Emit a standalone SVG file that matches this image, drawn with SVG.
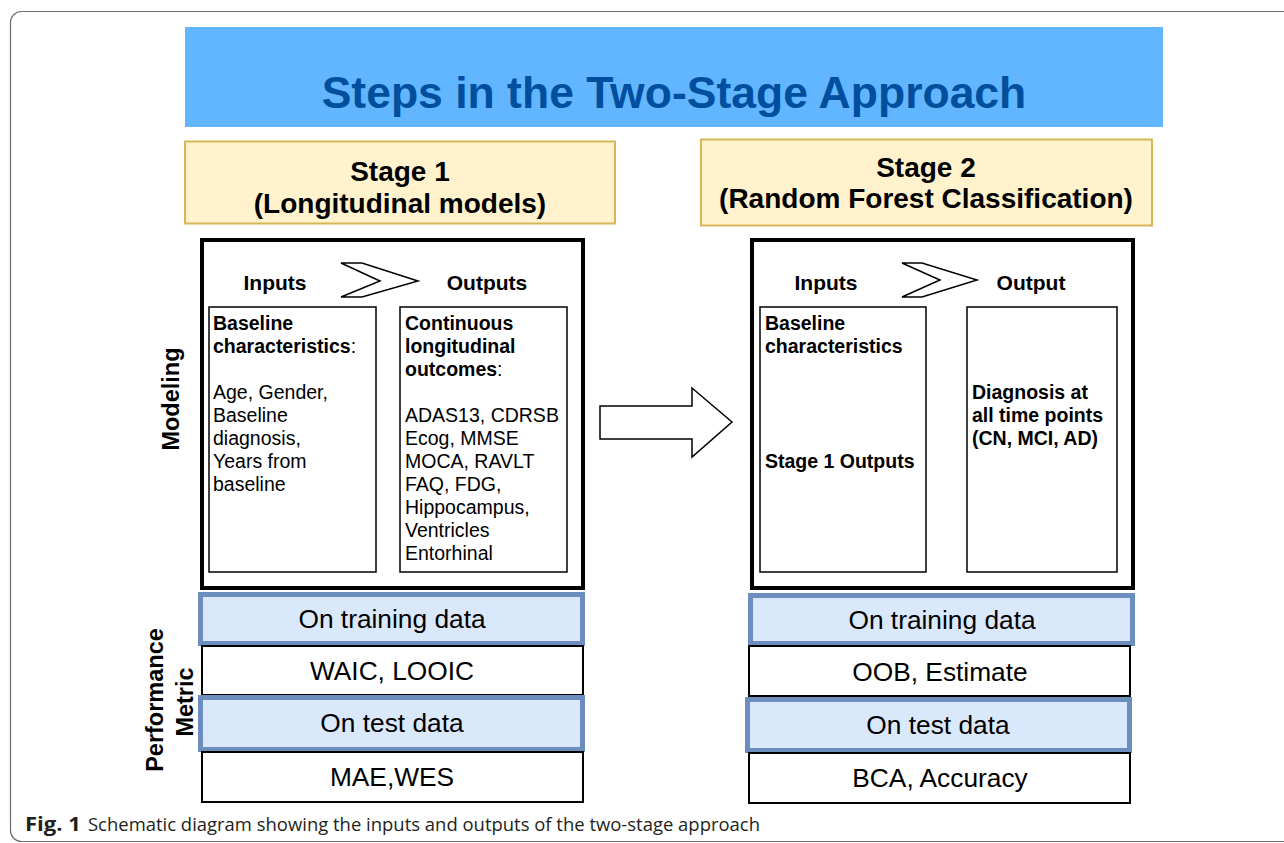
<svg xmlns="http://www.w3.org/2000/svg" width="1284" height="843" viewBox="0 0 1284 843">
<style>
.frame{fill:#fff;stroke:#6e6e6e;stroke-width:1.2}
.t{font-family:"Liberation Sans",Arial,sans-serif;fill:#000}
.b{font-weight:bold}
.title{font-family:"Liberation Sans",Arial,sans-serif;font-weight:bold;font-size:44.5px;fill:#004f9e}
.stage{fill:#fff2cc;stroke:#d6b656;stroke-width:2}
.big{fill:#fff;stroke:#000;stroke-width:4}
.inner{fill:#fff;stroke:#000;stroke-width:1.5}
.blue{fill:#dae8fc;stroke:#6c8ebf;stroke-width:5}
.row{fill:#fff;stroke:#000;stroke-width:2}
.arrow{fill:#fff;stroke:#000;stroke-width:1.5;stroke-linejoin:miter}
.st{font-size:28px;font-weight:bold;text-anchor:middle}
.io{font-size:21px;font-weight:bold;text-anchor:middle}
.in{font-size:19.5px}
.pm{font-size:26.3px;text-anchor:middle}
.side{font-size:23.5px;font-weight:bold;text-anchor:middle}
.cap{font-family:"Open Sans","Noto Sans",sans-serif;font-size:19px;fill:#231f20}
</style>
<rect class="frame" x="10.5" y="11.5" width="1300" height="830" rx="11"/>

<g id="title">
<rect x="185" y="27" width="978" height="100" fill="#61b6ff"/>
<text class="title" x="674" y="108" text-anchor="middle">Steps in the Two-Stage Approach</text>
</g>

<g id="stage1-header">
<rect class="stage" x="185" y="141.5" width="430" height="82"/>
<text class="t st" x="400" y="181">Stage 1</text>
<text class="t st" x="400" y="213">(Longitudinal models)</text>
</g>

<g id="stage2-header">
<rect class="stage" x="701" y="139.5" width="451" height="86"/>
<text class="t st" x="926" y="177">Stage 2</text>
<text class="t st" x="926" y="208">(Random Forest Classification)</text>
</g>

<g id="label-modeling">
<text class="t side" transform="translate(179,399) rotate(-90)">Modeling</text>
</g>
<g id="label-performance">
<text class="t side" transform="translate(163,700) rotate(-90)">Performance</text>
<text class="t side" transform="translate(193,702) rotate(-90)">Metric</text>
</g>

<g id="stage1-modeling">
<rect class="big" x="202" y="240" width="381" height="348"/>
<text class="t io" x="275" y="290">Inputs</text>
<text class="t io" x="487" y="290">Outputs</text>
</g>

<g id="stage1-inputs">
<rect class="inner" x="209" y="307" width="167" height="265"/>
<text class="t in" x="213" y="330"><tspan class="b">Baseline</tspan></text>
<text class="t in" x="213" y="353"><tspan class="b">characteristics</tspan>:</text>
<text class="t in" x="213" y="399">Age, Gender,</text>
<text class="t in" x="213" y="422">Baseline</text>
<text class="t in" x="213" y="445">diagnosis,</text>
<text class="t in" x="213" y="468">Years from</text>
<text class="t in" x="213" y="491">baseline</text>
</g>

<g id="stage1-outputs">
<rect class="inner" x="400" y="307" width="167" height="265"/>
<text class="t in b" x="405" y="330">Continuous</text>
<text class="t in b" x="405" y="353">longitudinal</text>
<text class="t in" x="405" y="376"><tspan class="b">outcomes</tspan>:</text>
<text class="t in" x="405" y="422">ADAS13, CDRSB</text>
<text class="t in" x="405" y="445">Ecog, MMSE</text>
<text class="t in" x="405" y="468">MOCA, RAVLT</text>
<text class="t in" x="405" y="491">FAQ, FDG,</text>
<text class="t in" x="405" y="514">Hippocampus,</text>
<text class="t in" x="405" y="537">Ventricles</text>
<text class="t in" x="405" y="560">Entorhinal</text>
</g>

<g id="stage2-modeling">
<rect class="big" x="752" y="240" width="381" height="348"/>
<text class="t io" x="826" y="290">Inputs</text>
<text class="t io" x="1031" y="290">Output</text>
</g>

<g id="stage2-inputs">
<rect class="inner" x="760" y="307" width="166" height="265"/>
<text class="t in b" x="765" y="330">Baseline</text>
<text class="t in b" x="765" y="353">characteristics</text>
<text class="t in b" x="765" y="468">Stage 1 Outputs</text>
</g>

<g id="stage2-output">
<rect class="inner" x="967" y="307" width="150" height="265"/>
<text class="t in b" x="972" y="399">Diagnosis at</text>
<text class="t in b" x="972" y="422">all time points</text>
<text class="t in b" x="972" y="445">(CN, MCI, AD)</text>
</g>

<g id="stage1-metrics">
<rect class="blue" x="200.5" y="594.5" width="382" height="49"/>
<text class="t pm" x="392" y="628">On training data</text>
<rect class="row" x="202" y="646" width="381" height="49"/>
<text class="t pm" x="392" y="680">WAIC, LOOIC</text>
<rect class="blue" x="200.5" y="697.5" width="382" height="52"/>
<text class="t pm" x="392" y="732">On test data</text>
<rect class="row" x="202" y="752" width="381" height="50"/>
<text class="t pm" x="392" y="786">MAE,WES</text>
</g>

<g id="stage2-metrics">
<rect class="blue" x="750.5" y="595.5" width="382" height="48"/>
<text class="t pm" x="942" y="629">On training data</text>
<rect class="row" x="749" y="646" width="381" height="50"/>
<text class="t pm" x="940" y="681">OOB, Estimate</text>
<rect class="blue" x="747.5" y="699.5" width="382" height="51"/>
<text class="t pm" x="938" y="734">On test data</text>
<rect class="row" x="749" y="753" width="381" height="50"/>
<text class="t pm" x="940" y="787">BCA, Accuracy</text>
</g>

<g id="connectors">
<polygon class="arrow" points="341,263 362,263 418,281 362,297 341,297 380,281"/>
<polygon class="arrow" points="902,263 922,263 977,280 922,297 902,297 940,280"/>
<polygon class="arrow" points="600,406 692,406 692,388 732,422 692,457 692,439 600,439"/>
</g>

<g id="caption">
<text class="cap" x="25" y="831" font-weight="bold" textLength="56" lengthAdjust="spacingAndGlyphs">Fig. 1</text>
<text class="cap" x="88" y="831" textLength="672" lengthAdjust="spacingAndGlyphs">Schematic diagram showing the inputs and outputs of the two-stage approach</text>
</g>
</svg>
